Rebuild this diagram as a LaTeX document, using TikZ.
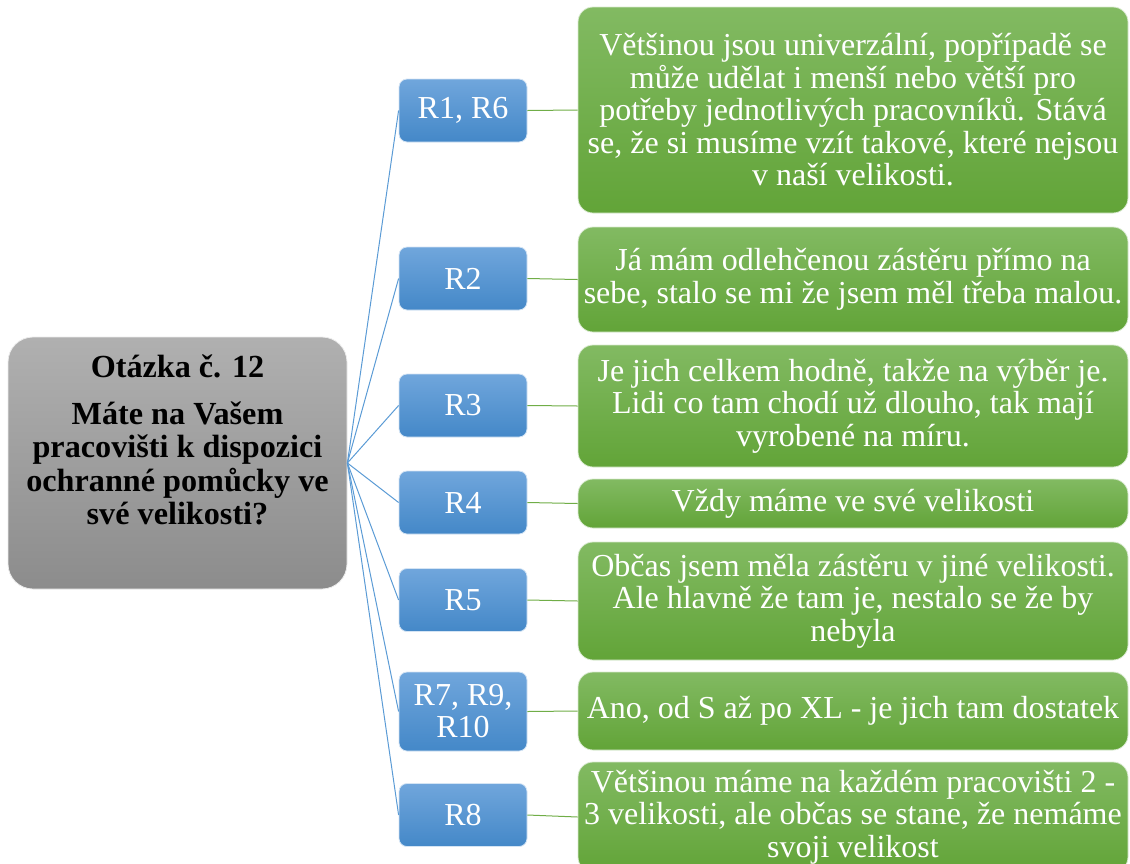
\documentclass[tikz,border=0pt]{standalone}
\usepackage{fontspec}
\setmainfont{Liberation Serif}
\definecolor{grayT}{RGB}{176,176,176}
\definecolor{grayB}{RGB}{140,140,140}
\definecolor{blueT}{RGB}{112,166,220}
\definecolor{blueB}{RGB}{68,136,200}
\definecolor{greenT}{RGB}{130,186,98}
\definecolor{greenB}{RGB}{98,164,56}
\definecolor{lineBlue}{RGB}{91,155,213}
\definecolor{lineGreen}{RGB}{112,173,71}
\tikzset{
  qbox/.style={draw=white!85!gray, line width=0.8pt, rounded corners=25pt,
    top color=grayT, bottom color=grayB, minimum width=339pt, minimum height=252pt},
  qtext/.style={text=black, align=center, inner sep=0pt,
    font=\bfseries\fontsize{32.2}{33.6}\selectfont},
  rbox/.style={draw=white!70!blueT, line width=0.8pt, rounded corners=8pt,
    top color=blueT, bottom color=blueB, text=white, align=center, inner sep=0pt,
    minimum width=128pt, minimum height=63pt, font=\fontsize{32}{32}\selectfont},
  abox/.style={draw=white!70!greenT, line width=0.8pt, rounded corners=15pt,
    top color=greenT, bottom color=greenB, text=white, align=center, inner sep=0pt,
    minimum width=550pt, font=\fontsize{32}{32.5}\selectfont},
  bline/.style={draw=lineBlue, line width=1pt},
  gline/.style={draw=lineGreen, line width=1pt}
}
\begin{document}
\begin{tikzpicture}[x=1pt,y=-1pt]
\useasboundingbox (0,0) rectangle (1130,863);
% question
\node[qbox] (q) at (177.5,463) {};
\node[qtext] (qt) at (177.5,440) {Otázka č. 12\\[13pt]Máte na Vašem\\pracovišti k dispozici\\ochranné pomůcky ve\\své velikosti?};
% respondents
\node[rbox] (r1) at (463,110.5) {R1, R6};
\node[rbox] (r2) at (463,278.5) {R2};
\node[rbox] (r3) at (463,405.5) {R3};
\node[rbox] (r4) at (463,502.5) {R4};
\node[rbox] (r5) at (463,600) {R5};
\node[rbox, minimum height=79pt] (r7) at (463,711.5) {R7, R9,\\R10};
\node[rbox] (r8) at (463,815) {R8};
% answers
\node[abox, minimum height=206pt] (a1) at (853,110) {Většinou jsou univerzální, popřípadě se\\může udělat i menší nebo větší pro\\potřeby jednotlivých pracovníků. Stává\\se, že si musíme vzít takové, které nejsou\\v naší velikosti.};
\node[abox, minimum height=105pt] (a2) at (853,279.5) {Já mám odlehčenou zástěru přímo na\\sebe, stalo se mi že jsem měl třeba malou.};
\node[abox, minimum height=122pt] (a3) at (853,406) {Je jich celkem hodně, takže na výběr je.\\Lidi co tam chodí už dlouho, tak mají\\vyrobené na míru.};
\node[abox, minimum height=49pt] (a4) at (853,503.5) {Vždy máme ve své velikosti};
\node[abox, minimum height=118pt] (a5) at (853,601) {Občas jsem měla zástěru v jiné velikosti.\\Ale hlavně že tam je, nestalo se že by\\nebyla};
\node[abox, minimum height=78pt] (a6) at (853,711) {Ano, od S až po XL - je jich tam dostatek};
\node[abox, minimum height=110pt] (a7) at (853,817) {Většinou máme na každém pracovišti 2 -\\3 velikosti, ale občas se stane, že nemáme\\svoji velikost};
% connectors
\foreach \r in {r1,r2,r3,r4,r5,r7,r8} \draw[bline] (q.east) -- (\r.west);
\draw[gline] (r1.east) -- (a1.west);
\draw[gline] (r2.east) -- (a2.west);
\draw[gline] (r3.east) -- (a3.west);
\draw[gline] (r4.east) -- (a4.west);
\draw[gline] (r5.east) -- (a5.west);
\draw[gline] (r7.east) -- (a6.west);
\draw[gline] (r8.east) -- (a7.west);
\end{tikzpicture}
\end{document}
